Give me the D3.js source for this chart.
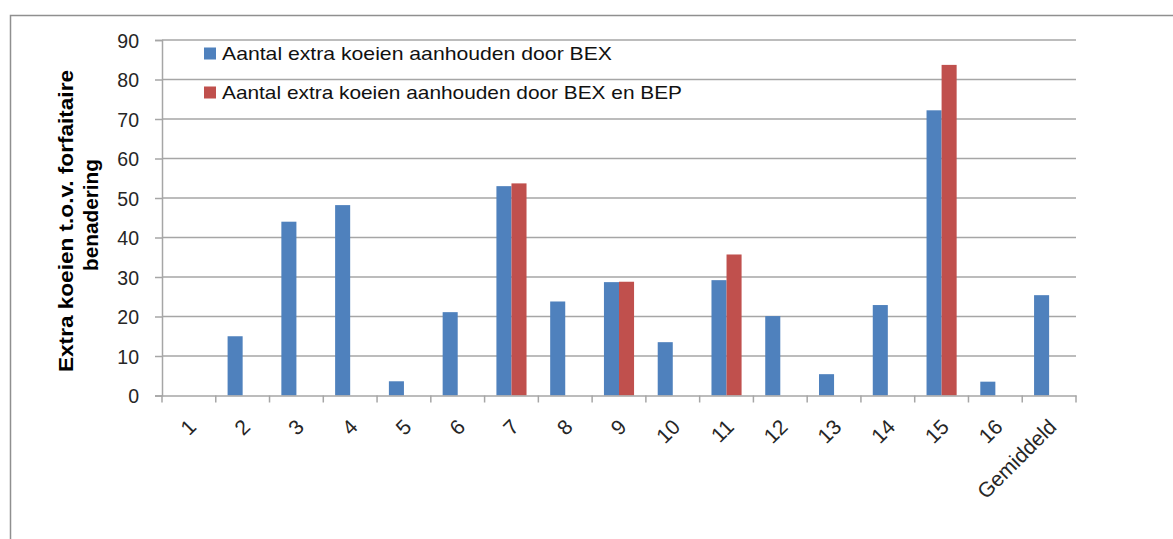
<!DOCTYPE html>
<html><head><meta charset="utf-8">
<script src="https://cdn.jsdelivr.net/npm/d3@7"></script>
<style>html,body{margin:0;padding:0;background:#fff;}svg{display:block;}</style>
</head><body>
<svg id="chart" width="1173" height="539"></svg>
<script>
const categories = ["1","2","3","4","5","6","7","8","9","10","11","12","13","14","15","16","Gemiddeld"];
const seriesNames = ["Aantal extra koeien aanhouden door BEX","Aantal extra koeien aanhouden door BEX en BEP"];
const bexValues = [0, 15, 44, 48.2, 3.6, 21.1, 53, 23.8, 28.7, 13.5, 29.2, 20.1, 5.4, 22.9, 72.2, 3.5, 25.4];
const bexBepValues = [null, null, null, null, null, null, 53.7, null, 28.8, null, 35.7, null, null, null, 83.7, null, null];
const yTicks = [0,10,20,30,40,50,60,70,80,90];
const yTitleLines = ["Extra koeien t.o.v. forfaitaire","benadering"];
const colors = ["#4F81BD","#C0504D"];

(function(){
const svg = d3.select("#chart");
const pLeft = 162, pRight = 1076, pTop = 40, pBottom = 395.5;
const font = "'Liberation Sans', Arial, sans-serif";

// outer border
svg.append("rect").attr("x",10.5).attr("y",15.5).attr("width",1200).attr("height",600)
  .attr("fill","none").attr("stroke","#8f8f8f").attr("stroke-width",1.5);

const x = d3.scaleBand().domain(categories).range([pLeft,pRight]).paddingInner(0).paddingOuter(0);
const y = d3.scaleLinear().domain([0,90]).range([pBottom,pTop]);
const groupW = x.bandwidth()*0.56;
const xs = d3.scaleBand().domain([0,1]).range([0,groupW]);

// gridlines
svg.append("g").selectAll("line").data(yTicks.filter(d=>d>0)).join("line")
  .attr("x1",pLeft).attr("x2",pRight).attr("y1",d=>y(d)).attr("y2",d=>y(d))
  .attr("stroke","#a6a6a6").attr("stroke-width",1.5);

// y axis
const yAxis = svg.append("g").attr("transform",`translate(${pLeft},0)`)
  .call(d3.axisLeft(y).tickValues(yTicks).tickSize(7).tickPadding(16).tickFormat(d3.format("d")));
yAxis.select(".domain").attr("stroke","#a6a6a6").attr("stroke-width",1.5);
yAxis.selectAll(".tick line").attr("stroke","#a6a6a6").attr("stroke-width",1.5);
yAxis.selectAll("text").attr("font-family",font).attr("font-size",19.5).attr("fill","#262626")
  .attr("dy","0.36em");

// bars
const series = [bexValues, bexBepValues];
series.forEach((vals,si)=>{
  svg.append("g").selectAll("rect").data(categories.map((c,i)=>({c,v:vals[i]})).filter(d=>d.v!=null && d.v>0))
    .join("rect")
    .attr("x",d=>x(d.c)+x.bandwidth()/2-groupW/2+xs(si))
    .attr("width",xs.bandwidth())
    .attr("y",d=>y(d.v)).attr("height",d=>pBottom-y(d.v))
    .attr("fill",colors[si]);
});

// x axis
const xAxis = svg.append("g").attr("transform",`translate(0,${pBottom})`)
  .call(d3.axisBottom(x).tickSize(0).tickFormat(d=>d));
xAxis.select(".domain").attr("stroke","#a6a6a6").attr("stroke-width",1.5);
svg.append("g").selectAll("line").data(d3.range(categories.length+1)).join("line")
  .attr("x1",i=>pLeft+i*x.step()).attr("x2",i=>pLeft+i*x.step())
  .attr("y1",pBottom).attr("y2",pBottom+7).attr("stroke","#a6a6a6").attr("stroke-width",1.5);
xAxis.selectAll(".tick text")
  .attr("font-family",font).attr("font-size",21).attr("fill","#262626")
  .attr("text-anchor","end").attr("dy",null).attr("y",0)
  .attr("transform","translate(-2,22) rotate(-45)")
  .attr("dominant-baseline","hanging");

// y axis title
const titleLens = [302, 112];
const tt = svg.append("g").attr("transform","translate(0,219)");
yTitleLines.forEach((t,i)=>{
  tt.append("text").attr("transform",`translate(${73+i*25},${i===0?2:-4}) rotate(-90)`)
    .attr("text-anchor","middle").attr("font-family",font).attr("font-weight","bold")
    .attr("font-size",20).attr("fill","#000")
    .attr("textLength",titleLens[i]).attr("lengthAdjust","spacingAndGlyphs").text(t);
});

// legend
const legendLens = [390, 460];
const lg = svg.append("g");
seriesNames.forEach((n,i)=>{
  const yy = 47.5 + i*39;
  lg.append("rect").attr("x",204).attr("y",yy).attr("width",12).attr("height",12).attr("fill",colors[i]);
  lg.append("text").attr("x",222).attr("y",yy+12.5).attr("font-family",font).attr("font-size",18.5)
    .attr("fill","#111").attr("textLength",legendLens[i]).attr("lengthAdjust","spacingAndGlyphs").text(n);
});
})();
</script>
</body></html>
